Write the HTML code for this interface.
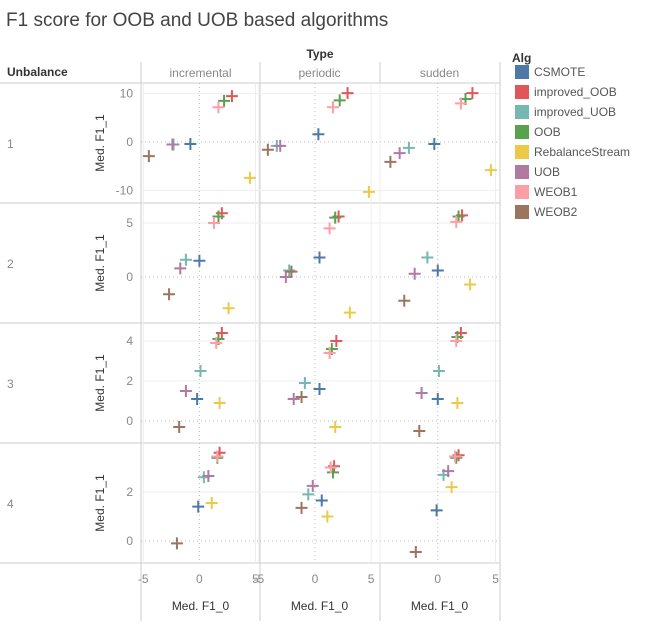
<!DOCTYPE html>
<html><head><meta charset="utf-8"><style>
body{margin:0;background:#fff;font-family:"Liberation Sans",sans-serif}
svg text{font-family:"Liberation Sans",sans-serif}
</style></head><body>
<svg id="c" width="652" height="621" xmlns="http://www.w3.org/2000/svg">
<text x="6" y="26" font-size="19" fill="#444">F1 score for OOB and UOB based algorithms</text>
<text x="320" y="58" font-size="12" font-weight="bold" fill="#333" text-anchor="middle">Type</text>
<text x="7" y="76" font-size="12" font-weight="bold" fill="#333">Unbalance</text>
<text x="512" y="62" font-size="12" font-weight="bold" fill="#333">Alg</text>
<line x1="500" y1="64" x2="500" y2="236" stroke="#ccc"/>
<g id="plot"></g>
</svg>
<script>
const algs=["CSMOTE","improved_OOB","improved_UOB","OOB","RebalanceStream","UOB","WEOB1","WEOB2"];
const colors=["#4e79a7","#e15759","#76b7b2","#59a14f","#edc948","#b07aa1","#ff9da7","#9c755f"];
const types=["incremental","periodic","sudden"];
const unbal=["1","2","3","4"];
// x values [row][col][alg]
const xVals=[
 [[-0.8,2.9,-2.3,2.2,4.5,-2.4,1.7,-4.5],[0.3,2.9,-3.4,2.2,4.8,-3.1,1.6,-4.2],[-0.3,3.0,-2.5,2.4,4.6,-3.3,2.0,-4.1]],
 [[0.0,2.0,-1.2,1.7,2.6,-1.7,1.3,-2.7],[0.4,2.1,-2.3,1.8,3.1,-2.6,1.3,-2.1],[0.0,2.1,-0.9,1.8,2.8,-2.0,1.6,-2.9]],
 [[-0.2,2.0,0.1,1.7,1.8,-1.2,1.5,-1.8],[0.4,1.9,-0.9,1.5,1.8,-1.9,1.3,-1.2],[0.0,2.0,0.1,1.7,1.7,-1.4,1.6,-1.6]],
 [[-0.1,1.8,0.4,1.6,1.1,0.8,1.6,-2.0],[0.6,1.7,-0.6,1.6,1.1,-0.2,1.4,-1.2],[-0.1,1.8,0.5,1.6,1.2,0.9,1.5,-1.9]]
];
const yVals=[
 [[-0.4,9.5,-0.5,8.5,-7.4,-0.5,7.2,-2.9],[1.6,10.1,-0.8,8.6,-10.3,-0.8,7.2,-1.6],[-0.4,10.1,-1.2,8.9,-5.8,-2.3,8.0,-4.1]],
 [[1.5,5.9,1.6,5.6,-2.9,0.8,5.0,-1.6],[1.8,5.6,0.6,5.5,-3.3,0.0,4.5,0.5],[0.6,5.7,1.8,5.6,-0.7,0.3,5.1,-2.2]],
 [[1.1,4.4,2.5,4.1,0.9,1.5,3.9,-0.3],[1.6,4.0,1.9,3.6,-0.3,1.1,3.4,1.2],[1.1,4.4,2.5,4.2,0.9,1.4,4.0,-0.5]],
 [[1.4,3.6,2.6,3.4,1.55,2.65,3.45,-0.1],[1.65,3.05,1.9,2.8,1.0,2.25,3.0,1.35],[1.25,3.5,2.7,3.4,2.2,2.85,3.45,-0.45]]
];
const yTicks=[[10,0,-10],[5,0],[4,2,0],[2,0]];
const xTicks=[-5,0,5];
const yDom=[[-12.6,12.2],[-4.26,6.85],[-1.1,4.9],[-0.9,4.0]];
const xDom=[[-5.2,5.4],[-4.9,5.7],[-5.0,5.3]];
const colL=[141,260,380], colW=119, rowT=[83,203,323,443], rowH=120;
const NS="http://www.w3.org/2000/svg";
const g=document.getElementById('plot');
function el(t,a,p){const e=document.createElementNS(NS,t);for(const k in a)e.setAttribute(k,a[k]);(p||g).appendChild(e);return e;}
function xs(c,v){return colL[c]+(v-xDom[c][0])/(xDom[c][1]-xDom[c][0])*colW;}
function ys(r,v){return rowT[r]+rowH-(v-yDom[r][0])/(yDom[r][1]-yDom[r][0])*rowH;}
// column headers
types.forEach((t,c)=>{
 const e=el('text',{x:colL[c]+colW/2,y:77,'font-size':12,fill:'#888','text-anchor':'middle'});e.textContent=t;
 
 
});
// frame lines
[260,380].forEach(x=>{const l=el('line',{x1:x,y1:62,x2:x,y2:621,stroke:'#ccc'});
 
 });
[141,500].forEach(x=>{const l=el('line',{x1:x,y1:62,x2:x,y2:621,stroke:'#ccc'});
 
 });
[83,203,323,443,563].forEach(y=>{const l=el('line',{x1:0,y1:y,x2:500,y2:y,stroke:'#ccc'});
 
 });
for(let r=0;r<4;r++){
 const rl=el('text',{x:7,y:rowT[r]+rowH/2+5,'font-size':12,fill:'#888'});rl.textContent=unbal[r];
 
 
 const yt=el('text',{x:104,y:rowT[r]+rowH/2,'font-size':12,fill:'#333','text-anchor':'middle',transform:`rotate(-90 104 ${rowT[r]+rowH/2})`});yt.textContent='Med. F1_1';
 
 
 yTicks[r].forEach(v=>{
  const y=ys(r,v);
  const t=el('text',{x:133,y:y+4,'font-size':12,fill:'#888','text-anchor':'end'});t.textContent=v;
  
  
  for(let c=0;c<3;c++){
   const l=el('line',{x1:colL[c],y1:y,x2:colL[c]+colW,y2:y,stroke:v===0?'#bbb':'#eee','stroke-dasharray':v===0?'1,3':'none'});
   
   
  }
 });
 for(let c=0;c<3;c++){
  xTicks.forEach(v=>{const x=xs(c,v);
   const l=el('line',{x1:x,y1:rowT[r],x2:x,y2:rowT[r]+rowH,stroke:v===0?'#bbb':'#eee','stroke-dasharray':v===0?'1,3':'none'});
   
   });
  for(let a=0;a<algs.length;a++){
   const x=xs(c,xVals[r][c][a]), y=ys(r,yVals[r][c][a]);
   const p=el('path',{d:`M${x-6},${y}H${x+6}M${x},${y-6}V${y+6}`,stroke:colors[a],'stroke-width':2,fill:'none'});
   
   
  }
 }
}
for(let c=0;c<3;c++){
 xTicks.forEach(v=>{
  if(c===2&&v===-5)return;
  const t=el('text',{x:xs(c,v),y:583,'font-size':12,fill:'#888','text-anchor':'middle'});t.textContent=v;
  
  
 });
 const xt=el('text',{x:colL[c]+colW/2,y:610,'font-size':12,fill:'#333','text-anchor':'middle'});xt.textContent='Med. F1_0';
 
 
}
algs.forEach((a,i)=>{
 const y=72+i*20;
 const s=el('rect',{x:515,y:y-7,width:14,height:14,fill:colors[i]});
 
 
 const t=el('text',{x:534,y:y+4,'font-size':12,fill:'#555'});t.textContent=a;
 
 
});
</script>
</body></html>
